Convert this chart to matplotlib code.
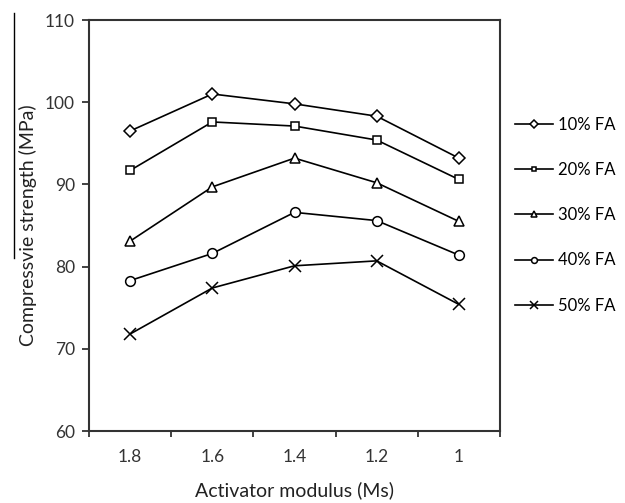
import matplotlib.pyplot as plt
from matplotlib.lines import Line2D

plt.rcParams['font.family'] = ['Lato', 'DejaVu Sans']

modulus = ["1.8", "1.6", "1.4", "1.2", "1"]
fa_10 = [96.5, 101.0, 99.8, 98.3, 93.2]
fa_20 = [91.7, 97.6, 97.1, 95.4, 90.6]
fa_30 = [83.1, 89.7, 93.2, 90.2, 85.5]
fa_40 = [78.3, 81.6, 86.6, 85.6, 81.4]
fa_50 = [71.8, 77.4, 80.1, 80.7, 75.4]
labels = ["10% FA", "20% FA", "30% FA", "40% FA", "50% FA"]

series = [fa_10, fa_20, fa_30, fa_40, fa_50]
markers = ["D", "s", "^", "o", "x"]
sizes = [6.4, 6, 7.5, 7, 9]

fig = plt.figure(figsize=(6.25, 5.03), dpi=100)
ax = fig.add_axes([0.1424, 0.1431, 0.6576, 0.8171])

xs = list(range(1, len(modulus) + 1))
for vals, m, s, lab in zip(series, markers, sizes, labels):
    ax.plot(xs, vals, color="black", lw=1.2, marker=m, ms=s,
            mfc="white", mec="black", mew=1.1, label=lab)

ax.set_xlim(0.5, 5.5)
ax.set_ylim(60, 110)
ax.set_yticks(range(60, 111, 10))
ax.set_xticks(xs)
ax.set_xticklabels(modulus)
ax.set_xticks([x + 0.5 for x in range(0, 6)], minor=True)
ax.tick_params(axis="x", which="major", length=0, pad=13, labelsize=12.5, colors="#333333")
ax.tick_params(axis="x", which="minor", length=4, width=1.3, direction="out", color="#333333")
ax.tick_params(axis="y", length=5, width=1.3, direction="out", pad=5, labelsize=12.5,
               colors="#333333", color="#333333")
for sp in ax.spines.values():
    sp.set_linewidth(1.5)
    sp.set_color("#333333")

ax.set_xlabel("Activator modulus (Ms)", fontsize=14, labelpad=12, color="#222222")
ax.set_ylabel("Compressvie strength (MPa)", fontsize=14, labelpad=6, color="#222222")

ax.legend(loc="center left", bbox_to_anchor=(1.02, 0.525), frameon=False,
          fontsize=12, markerscale=0.6, handlelength=2.3, labelspacing=1.75,
          handletextpad=0.3, borderaxespad=0)

fig.add_artist(Line2D([14 / 625, 14 / 625], [1 - 13 / 503, 1 - 258 / 503],
                      color="black", lw=1.0))

fig.savefig("out.png", dpi=100)
